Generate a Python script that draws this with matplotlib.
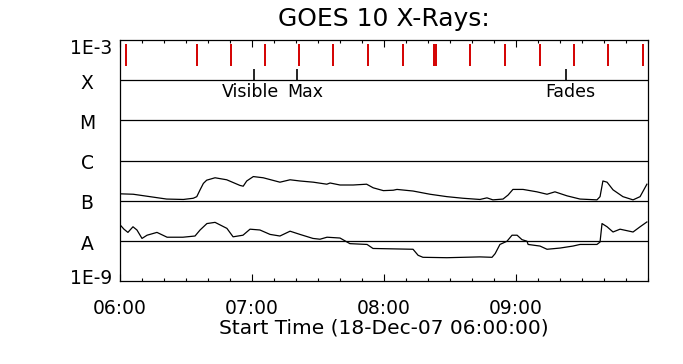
import numpy as np
import matplotlib
matplotlib.use("Agg")
import matplotlib.pyplot as plt
from matplotlib.transforms import blended_transform_factory

# ---- data (minutes after 06:00, log10 flux W/m^2) ----
long_t = [0.3, 6.0, 13.6, 21.2, 28.8, 33.3, 34.9, 36.4, 37.9, 39.4, 43.2, 48.5, 54.5, 56.0,
          57.6, 60.6, 65.1, 72.7, 77.3, 81.8, 87.9, 94.0, 95.5, 100.0, 106.0, 112.1, 115.1,
          119.7, 124.2, 125.9, 133.2, 140.9, 148.6, 155.9, 163.6, 166.8, 169.5, 174.1, 176.4,
          178.6, 183.2, 189.5, 194.1, 197.7, 203.2, 209.1, 216.8, 218.2, 219.5, 221.4, 224.1,
          228.6, 233.2, 236.4, 239.5]
long_log = [-6.83, -6.84, -6.90, -6.96, -6.97, -6.94, -6.90, -6.73, -6.57, -6.49, -6.43, -6.48,
            -6.62, -6.64, -6.51, -6.40, -6.43, -6.54, -6.48, -6.51, -6.54, -6.59, -6.56, -6.61,
            -6.61, -6.59, -6.68, -6.75, -6.74, -6.72, -6.76, -6.84, -6.90, -6.94, -6.97, -6.93,
            -6.98, -6.96, -6.86, -6.72, -6.72, -6.78, -6.84, -6.78, -6.88, -6.96, -6.98, -6.90,
            -6.51, -6.54, -6.73, -6.90, -6.98, -6.90, -6.59]

short_t = [0.5, 1.8, 3.6, 5.9, 7.7, 10.0, 12.3, 16.8, 21.4, 28.6, 34.1, 36.4, 39.5, 43.2, 48.6,
           51.4, 55.9, 59.1, 63.6, 68.2, 72.7, 77.3, 81.8, 87.7, 90.9, 94.1, 100.0, 104.5, 112.3,
           115.0, 133.2, 135.5, 137.7, 148.6, 163.6, 169.1, 170.5, 172.7, 175.9, 178.2, 180.5,
           182.7, 185.0, 185.5, 190.9, 194.1, 200.0, 205.9, 209.1, 216.8, 218.2, 219.1, 221.4,
           224.1, 227.3, 233.2, 236.4, 239.5]
short_log = [-7.63, -7.71, -7.79, -7.65, -7.73, -7.94, -7.86, -7.79, -7.91, -7.91, -7.88, -7.73,
             -7.57, -7.54, -7.69, -7.90, -7.86, -7.71, -7.73, -7.84, -7.88, -7.76, -7.84, -7.94,
             -7.96, -7.91, -7.93, -8.07, -8.09, -8.19, -8.21, -8.36, -8.41, -8.42, -8.40, -8.41,
             -8.32, -8.09, -8.01, -7.86, -7.86, -7.97, -8.01, -8.09, -8.13, -8.21, -8.18, -8.13,
             -8.09, -8.09, -8.03, -7.57, -7.65, -7.78, -7.71, -7.78, -7.65, -7.53]

image_times = [2.5, 35.2, 50.5, 65.9, 81.4, 96.8, 112.7, 128.6, 142.7, 143.6, 159.3, 175.0,
               190.7, 206.4, 221.8, 237.7]
event_times = [60.7, 80.3, 202.5]
event_labels = ["Visible", "Max", "Fades"]
event_label_pos = [59.5, 84.1, 204.5]

class_levels = [1e-4, 1e-5, 1e-6, 1e-7, 1e-8]
class_labels = ["X", "M", "C", "B", "A"]
hour_ticks = [0, 60, 120, 180]
hour_labels = ["06:00", "07:00", "08:00", "09:00"]

title = "GOES 10 X-Rays:"
xlabel = "Start Time (18-Dec-07 06:00:00)"

# ---- figure ----
W, H = 683, 364
fig = plt.figure(figsize=(W / 100, H / 100), dpi=100)
fig.patch.set_facecolor("white")
ax = fig.add_axes([120 / W, 1 - 281 / H, 528 / W, 241 / H])
ax.set_yscale("log")
ax.set_ylim(1e-9, 1e-3)
ax.set_xlim(0, 240)

lw = 0.9
for lev in class_levels:
    ax.axhline(lev, color="black", lw=lw)

ax.plot(long_t, 10 ** np.array(long_log), color="black", lw=lw)
ax.plot(short_t, 10 ** np.array(short_log), color="black", lw=lw)

ax.vlines(image_times, 10 ** -3.65, 10 ** -3.1, color="#d40000", lw=1.4)
ax.vlines(event_times, 10 ** -4.0, 10 ** -3.72, color="black", lw=1.2)
for t, lab in zip(event_label_pos, event_labels):
    ax.text(t, 10 ** -4.3, lab, ha="center", va="center", fontsize=12.5)

# y labels
tr = blended_transform_factory(ax.transAxes, ax.transData)
ax.set_yticks([])
ax.yaxis.set_minor_locator(matplotlib.ticker.NullLocator())
ax.text(-0.015, 10 ** -3.22, "1E-3", transform=tr, ha="right", va="center", fontsize=13.5)
ax.text(-0.015, 10 ** -8.93, "1E-9", transform=tr, ha="right", va="center", fontsize=13.5)
for lev, lab in zip(class_levels, class_labels):
    ax.text(-0.0625, lev * 10 ** -0.08, lab, transform=tr, ha="center", va="center", fontsize=13.5)

# x ticks
ax.set_xticks(hour_ticks)
ax.set_xticklabels(hour_labels, fontsize=13.5)
ax.set_xticks(np.arange(0, 241, 10), minor=True)
ax.tick_params(axis="x", which="major", direction="in", length=5, width=0.8, top=True, pad=13)
ax.tick_params(axis="x", which="minor", direction="in", length=2.5, width=0.8, top=True)
for s in ax.spines.values():
    s.set_linewidth(0.9)

ax.set_xlabel(xlabel, fontsize=14.5, labelpad=0)
ax.set_title(title, fontsize=18, pad=10)

fig.savefig("out.png", dpi=100)
